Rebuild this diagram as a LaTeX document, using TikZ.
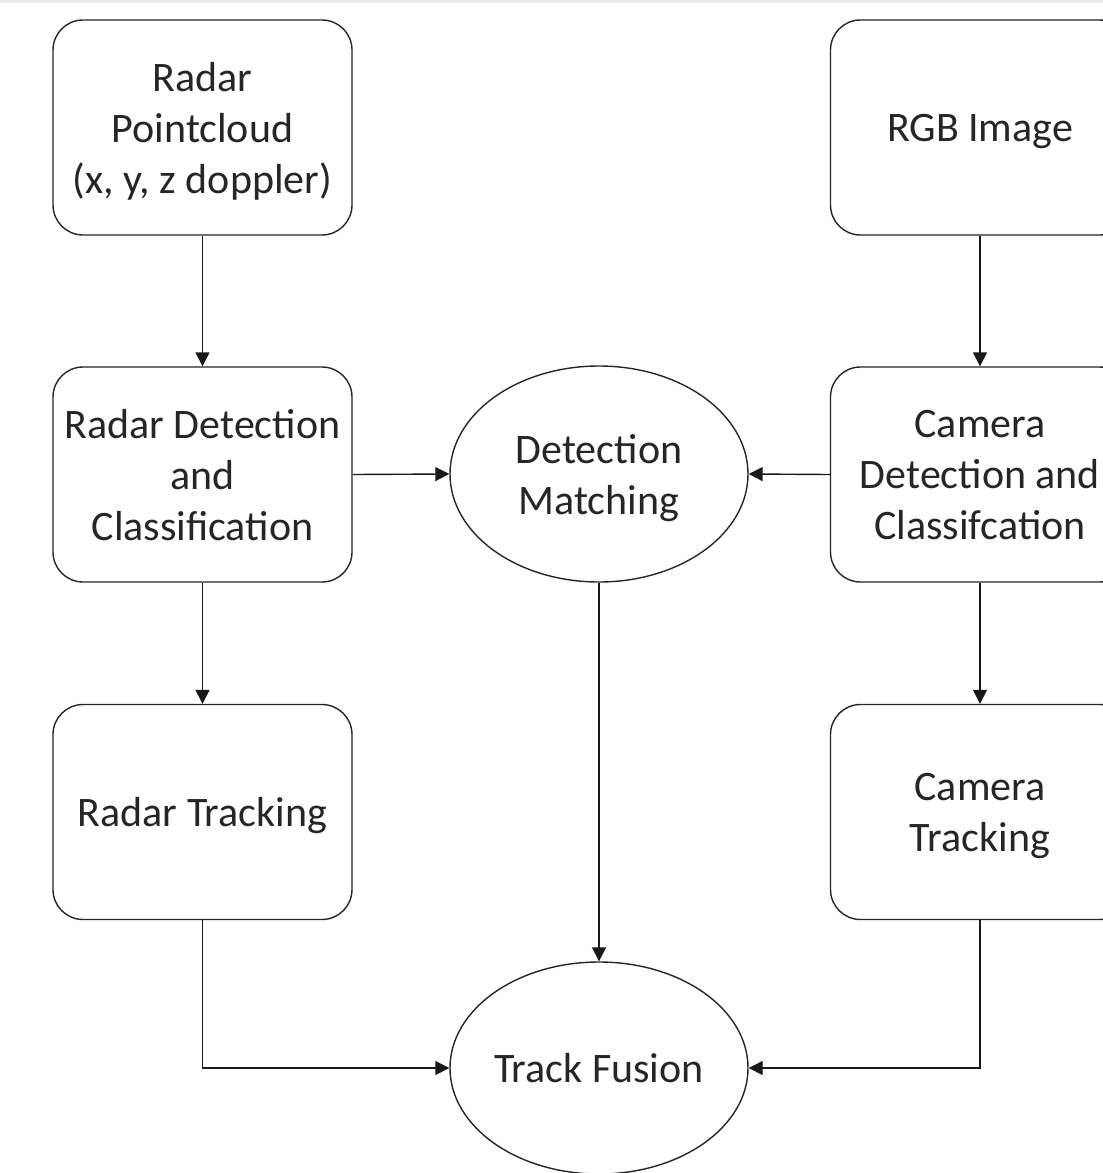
\documentclass[tikz,border=0pt]{standalone}
\usepackage{fontspec}
\setmainfont{Carlito}
\usetikzlibrary{shapes.geometric,arrows.meta}
\begin{document}
\begin{tikzpicture}[x=1pt,y=-1pt,
  every node/.style={font=\fontsize{42}{51}\selectfont, text=black!85, align=center, inner sep=0pt, text depth=0pt},
  box/.style={draw=black!85, line width=1.4pt, rounded corners=30pt, minimum width=299pt, minimum height=215pt, fill=white},
  oval/.style={draw=black!85, line width=1.4pt, ellipse, minimum width=298pt, minimum height=216pt, fill=white},
  arr/.style={draw=black!90, line width=1.4pt, -{Triangle[length=14pt,width=14pt]}}]
\useasboundingbox (0,0) rectangle (1103,1173);
\fill[white] (0,0) rectangle (1103,1173);
\fill[black!8] (0,0) rectangle (1103,3);
\node[box] (rp) at (202.5,127.5) {Radar\\Pointcloud\\(x, y, z doppler)};
\node[box] (rdc) at (202.5,474.5) {Radar Detection\\and\\Classification};
\node[box] (rt) at (202.5,812) {Radar Tracking};
\node[box] (rgb) at (980,127.5) {RGB Image};
\node[box] (cdc) at (980,474.5) {Camera\\Detection and\\Classifcation};
\node[box] (ct) at (980,812) {Camera\\Tracking};
\node[oval] (dm) at (599,474) {Detection\\Matching};
\node[oval, minimum height=212pt] (tf) at (599,1068) {Track Fusion};
\draw[arr] (rp.south) -- (rdc.north);
\draw[arr] (rdc.south) -- (rt.north);
\draw[arr] (rgb.south) -- (cdc.north);
\draw[arr] (cdc.south) -- (ct.north);
\draw[arr] (rdc.east) -- (dm.west);
\draw[arr] (cdc.west) -- (dm.east);
\draw[arr] (dm.south) -- (tf.north);
\draw[arr] (rt.south) |- (tf.west);
\draw[arr] (ct.south) |- (tf.east);
\end{tikzpicture}
\end{document}
